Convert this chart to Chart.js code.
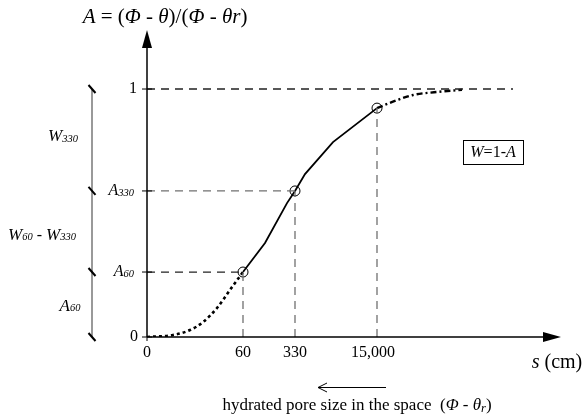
<!DOCTYPE html>
<html>
<head>
<meta charset="utf-8">
<script src="https://cdn.jsdelivr.net/npm/chart.js@4/dist/chart.umd.min.js"></script>
<style>
  html, body { margin: 0; padding: 0; background: #fff; }
  #wrap { width: 587px; height: 416px; }
</style>
</head>
<body>
<div id="wrap"><canvas id="Chart" width="587" height="416"></canvas></div>
<script>
// Tick positions along the schematic s axis and their labels
var xTickPos = [0, 96, 148, 230];
var xTickLabels = ['0', '60', '330', '15,000'];

// A values at the marked suctions
var yTickVals = [0, 0.262, 0.589, 1];

// Curve: dotted part (dry end), measured part, dotted part (wet end)
var lowX = [0, 26, 43, 56, 70, 83, 96];
var lowY = [0, 0.008, 0.028, 0.06, 0.117, 0.19, 0.262];
var midX = [96, 118, 140, 148, 158, 186, 230];
var midY = [0.262, 0.379, 0.54, 0.589, 0.657, 0.786, 0.923];
var highX = [230, 250, 266, 290, 315];
var highY = [0.923, 0.955, 0.976, 0.988, 0.997];

// Measured points (s = 60, 330, 15,000)
var markX = [96, 148, 230];
var markY = [0.262, 0.589, 0.923];

// Right end of the A = 1 guide line
var oneLineEnd = 366;

function pts(xs, ys) {
    return xs.map(function (x, i) { return { x: x, y: ys[i] }; });
}

var serif = '"Liberation Serif", "DejaVu Serif", serif';

// draws a list of [text, size, italic, dy] pieces starting at x
function richText(ctx, parts, x, y, align) {
    var w = 0;
    parts.forEach(function (p) {
        ctx.font = (p[2] ? 'italic ' : '') + p[1] + 'px ' + serif;
        w += ctx.measureText(p[0]).width;
    });
    var cx = x;
    if (align === 'right') cx = x - w;
    if (align === 'center') cx = x - w / 2;
    parts.forEach(function (p) {
        ctx.font = (p[2] ? 'italic ' : '') + p[1] + 'px ' + serif;
        ctx.textAlign = 'left';
        ctx.fillText(p[0], cx, y + (p[3] || 0));
        cx += ctx.measureText(p[0]).width;
    });
    return w;
}

var yTickParts = [
    [['0', 16, false, 0]],
    [['A', 16, true, 0], ['60', 10.5, true, 2]],
    [['A', 16, true, 0], ['330', 10.5, true, 2]],
    [['1', 16, false, 0]]
];
var yTickGap = [9, 13, 13, 10];

var overlay = {
    id: 'overlay',
    afterDraw: function (chart) {
        var ctx = chart.ctx;
        var xs = chart.scales.x, ys = chart.scales.y;
        var x0 = xs.getPixelForValue(0), y0 = ys.getPixelForValue(0);
        var top = chart.chartArea.top, right = chart.chartArea.right;
        ctx.save();
        ctx.strokeStyle = '#000';
        ctx.fillStyle = '#000';
        ctx.setLineDash([]);

        // y axis with arrow
        ctx.lineWidth = 1.5;
        ctx.beginPath();
        ctx.moveTo(x0, y0);
        ctx.lineTo(x0, top + 12);
        ctx.stroke();
        ctx.beginPath();
        ctx.moveTo(x0, top);
        ctx.lineTo(x0 - 5, top + 18);
        ctx.lineTo(x0 + 5, top + 18);
        ctx.closePath();
        ctx.fill();

        // x axis with arrow
        ctx.beginPath();
        ctx.moveTo(x0, y0);
        ctx.lineTo(right - 12, y0);
        ctx.stroke();
        ctx.beginPath();
        ctx.moveTo(right, y0);
        ctx.lineTo(right - 18, y0 - 5);
        ctx.lineTo(right - 18, y0 + 5);
        ctx.closePath();
        ctx.fill();

        // y ticks + labels
        ctx.lineWidth = 1;
        ctx.textBaseline = 'middle';
        yTickVals.forEach(function (v, i) {
            var py = ys.getPixelForValue(v);
            ctx.beginPath();
            ctx.moveTo(x0 - 5, py);
            ctx.lineTo(x0 + 5, py);
            ctx.stroke();
            richText(ctx, yTickParts[i], x0 - yTickGap[i], py, 'right');
        });

        // x tick labels
        ctx.textBaseline = 'top';
        xTickPos.forEach(function (v, i) {
            var px = xs.getPixelForValue(v);
            ctx.font = '16px ' + serif;
            ctx.textAlign = 'center';
            ctx.fillText(xTickLabels[i], px + (i === 3 ? -4 : 0), y0 + 8);
        });
        ctx.beginPath();
        ctx.moveTo(x0, y0);
        ctx.lineTo(x0, y0 + 4);
        ctx.stroke();

        // left bracket
        var bx = 92;
        ctx.strokeStyle = '#555';
        ctx.lineWidth = 1.2;
        ctx.beginPath();
        ctx.moveTo(bx, ys.getPixelForValue(1));
        ctx.lineTo(bx, y0);
        ctx.stroke();
        ctx.strokeStyle = '#000';
        ctx.lineWidth = 2;
        [0, 0.262, 0.589, 1].forEach(function (v) {
            var py = ys.getPixelForValue(v);
            ctx.beginPath();
            ctx.moveTo(bx - 3.5, py - 4);
            ctx.lineTo(bx + 3.5, py + 4);
            ctx.stroke();
        });
        ctx.textBaseline = 'middle';
        var yMidTop = ys.getPixelForValue((1 + 0.589) / 2) - 3;
        var yMid = ys.getPixelForValue((0.589 + 0.262) / 2) + 4;
        var yMidLow = ys.getPixelForValue(0.262 / 2) + 2;
        richText(ctx, [['W', 17, true, 0], ['330', 10.5, true, 2]], 63, yMidTop, 'center');
        richText(ctx, [['W', 17, true, 0], ['60', 10.5, true, 2], [' - ', 16, false, 0],
                       ['W', 17, true, 0], ['330', 10.5, true, 2]], 42, yMid, 'center');
        richText(ctx, [['A', 17, true, 0], ['60', 10.5, true, 2]], 70, yMidLow, 'center');

        // axis titles
        ctx.textBaseline = 'alphabetic';
        richText(ctx, [['A', 21, true, 0], [' = (', 21, false, 0], ['Φ', 21, true, 0],
                       [' - ', 21, false, 0], ['θ', 21, true, 0], [')/(', 21, false, 0],
                       ['Φ', 21, true, 0], [' - ', 21, false, 0], ['θ', 21, true, 0],
                       ['r', 21, true, 0], [')', 21, false, 0]], 165, 23, 'center');
        richText(ctx, [['s', 20, true, 0], [' (cm)', 20, false, 0]], 557, 368, 'center');

        // W=1-A box
        ctx.lineWidth = 1;
        ctx.strokeRect(463.5, 140.5, 60, 24);
        ctx.textBaseline = 'middle';
        richText(ctx, [['W', 16, true, 0], ['=1-', 16, false, 0], ['A', 16, true, 0]], 493, 153, 'center');

        // bottom arrow + caption
        ctx.lineWidth = 1;
        ctx.beginPath();
        ctx.moveTo(386, 387.5);
        ctx.lineTo(318, 387.5);
        ctx.moveTo(327, 383);
        ctx.lineTo(318, 387.5);
        ctx.lineTo(327, 392);
        ctx.stroke();
        ctx.textBaseline = 'alphabetic';
        richText(ctx, [['hydrated pore size in the space  (', 17, false, 0], ['Φ', 17, true, 0],
                       [' - ', 17, false, 0], ['θ', 17, true, 0], ['r', 12.5, true, 2],
                       [')', 17, false, 0]], 357, 410, 'center');
        ctx.restore();
    }
};

var guideGray = '#707070';
function guide(xs, ys, color) {
    return {
        type: 'line', data: pts(xs, ys), borderColor: color, borderWidth: 1.3,
        borderDash: [8, 6], pointRadius: 0, tension: 0, fill: false
    };
}

var config = {
    type: 'line',
    data: {
        datasets: [
            guide([0, oneLineEnd], [1, 1], '#222'),
            guide([0, markX[1]], [markY[1], markY[1]], guideGray),
            guide([0, markX[0]], [markY[0], markY[0]], '#222'),
            guide([markX[0], markX[0]], [0, markY[0]], guideGray),
            guide([markX[1], markX[1]], [0, markY[1]], guideGray),
            guide([markX[2], markX[2]], [0, markY[2]], guideGray),
            {
                type: 'line', data: pts(lowX, lowY), borderColor: '#000', borderWidth: 2.6,
                borderDash: [3, 3], pointRadius: 0, cubicInterpolationMode: 'monotone', fill: false
            },
            {
                type: 'line', data: pts(midX, midY), borderColor: '#000', borderWidth: 1.8,
                pointRadius: 0, tension: 0, fill: false
            },
            {
                type: 'line', data: pts(highX, highY), borderColor: '#000', borderWidth: 2.4,
                borderDash: [6, 3, 2, 3], pointRadius: 0, cubicInterpolationMode: 'monotone', fill: false
            },
            {
                type: 'scatter', data: pts(markX, markY), borderColor: '#000', borderWidth: 1,
                backgroundColor: 'rgba(0,0,0,0)', pointRadius: 5, pointStyle: 'circle'
            }
        ]
    },
    options: {
        responsive: false,
        animation: false,
        devicePixelRatio: 1,
        layout: { padding: { left: 147, right: 26, top: 30, bottom: 79 } },
        plugins: { legend: { display: false }, tooltip: { enabled: false } },
        scales: {
            x: { type: 'linear', min: 0, max: 414, display: false },
            y: { type: 'linear', min: 0, max: 1.238, display: false }
        }
    },
    plugins: [overlay]
};

var ctx = document.getElementById('Chart').getContext('2d');
var myChart = new Chart(ctx, config);
</script>
</body>
</html>
